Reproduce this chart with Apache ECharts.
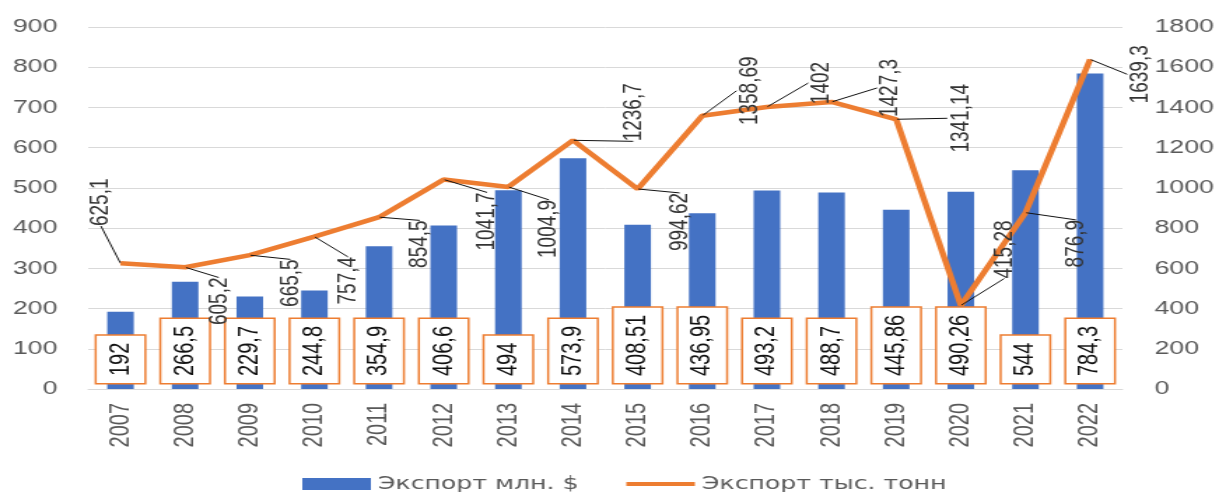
<!DOCTYPE html>
<html>
<head>
<meta charset="utf-8">
<script src="https://cdn.jsdelivr.net/npm/echarts@6/dist/echarts.min.js"></script>
<style>
  html, body { margin: 0; padding: 0; background: #fff; overflow: hidden; }
  /* the source picture is stretched sideways, so the chart is drawn narrow and widened */
  #chart { width: 871px; height: 492px; transform: scaleX(1.39954); transform-origin: 0 0; }
</style>
</head>
<body>
<div id="chart"></div>
<script>
const years = ["2007", "2008", "2009", "2010", "2011", "2012", "2013", "2014",
  "2015", "2016", "2017", "2018", "2019", "2020", "2021", "2022"];
const exportUsd = [192, 266.5, 229.7, 244.8, 354.9, 406.6, 494, 573.9,
  408.51, 436.95, 493.2, 488.7, 445.86, 490.26, 544, 784.3];
const exportTons = [625.1, 605.2, 665.5, 757.4, 854.5, 1041.7, 1004.9, 1236.7,
  994.62, 1358.69, 1402, 1427.3, 1341.14, 415.28, 876.9, 1639.3];
const leftTicks = [0, 900, 100];
const rightTicks = [0, 1800, 200];

// hand-placed label nudges for the line, screen x / y (layout only)
const lineLabelShift = [[-14, -61], [24, 34], [29, 28], [24, 44], [29, 27], [31, 42],
  [29, 42], [43, -28], [30, 33], [34, -25], [39, -24], [42, -14], [46, -1],
  [31, -56], [36, 31], [36, 15]];

const font = "'Liberation Sans', Arial, sans-serif";
const fmt = (v) => String(v).replace(".", ",");

const chart = echarts.init(document.getElementById("chart"));
const option = {
  animation: false,
  textStyle: { fontFamily: font },
  grid: { left: 63, right: 69, top: 27, bottom: 103 },
  legend: {
    left: 211,
    top: 470,
    itemWidth: 49,
    itemHeight: 12,
    itemGap: 34,
    textStyle: { color: "#595959", fontSize: 18, fontFamily: "'DejaVu Sans', sans-serif" },
    itemStyle: { borderWidth: 0 },
    data: [
      { name: "Экспорт млн. $", icon: "rect" },
      {
        name: "Экспорт тыс. тонн",
        icon: "path://M0,0L0.5,0L0.5,0.01L0,0.01ZM0,4L49,4L49,8L0,8ZM48.5,11.99L49,11.99L49,12L48.5,12Z",
      },
    ],
  },
  xAxis: {
    type: "category",
    data: years,
    axisLine: { lineStyle: { color: "#D9D9D9", width: 1 } },
    axisTick: { show: false },
    axisLabel: { rotate: 90, margin: 14, color: "#595959", fontSize: 20, fontFamily: font },
  },
  yAxis: [
    {
      type: "value",
      min: leftTicks[0],
      max: leftTicks[1],
      interval: leftTicks[2],
      axisLabel: { color: "#595959", fontSize: 19, margin: 22, fontFamily: font, formatter: (v) => String(v) },
      splitLine: { lineStyle: { color: "#D9D9D9", width: 1 } },
      axisLine: { show: false },
      axisTick: { show: false },
    },
    {
      type: "value",
      min: rightTicks[0],
      max: rightTicks[1],
      interval: rightTicks[2],
      axisLabel: { color: "#595959", fontSize: 19, margin: 23, fontFamily: font, formatter: (v) => String(v) },
      splitLine: { show: false },
      axisLine: { show: false },
      axisTick: { show: false },
    },
  ],
  series: [
    {
      name: "Экспорт млн. $",
      type: "bar",
      data: exportUsd,
      barWidth: 19,
      itemStyle: { color: "#4472C4" },
      label: {
        show: true,
        position: "insideBottom",
        distance: 6,
        rotate: 90,
        align: "left",
        verticalAlign: "middle",
        color: "#111",
        fontSize: 20,
        lineHeight: 20,
        fontFamily: font,
        backgroundColor: "#fff",
        borderColor: "#ED7D31",
        borderWidth: 1.5,
        padding: [7, 7, 7, 7],
        formatter: (p) => fmt(p.value),
      },
    },
    {
      name: "Экспорт тыс. тонн",
      type: "line",
      yAxisIndex: 1,
      data: exportTons,
      symbol: "circle",
      symbolSize: 1,
      showSymbol: true,
      lineStyle: { color: "#ED7D31", width: 4.5 },
      itemStyle: { color: "#ED7D31" },
      label: {
        show: true,
        position: "inside",
        rotate: 90,
        align: "center",
        verticalAlign: "middle",
        color: "#333",
        fontSize: 19,
        fontFamily: font,
        formatter: (p) => fmt(p.value),
      },
      labelLine: { show: true, lineStyle: { color: "#111", width: 1 } },
      // the label is turned 90 degrees, so its own dx / dy run along screen -y / x
      labelLayout: (p) => {
        const s = lineLabelShift[p.dataIndex];
        return { dx: -s[1], dy: s[0] };
      },
    },
  ],
};
chart.setOption(option);
</script>
</body>
</html>
